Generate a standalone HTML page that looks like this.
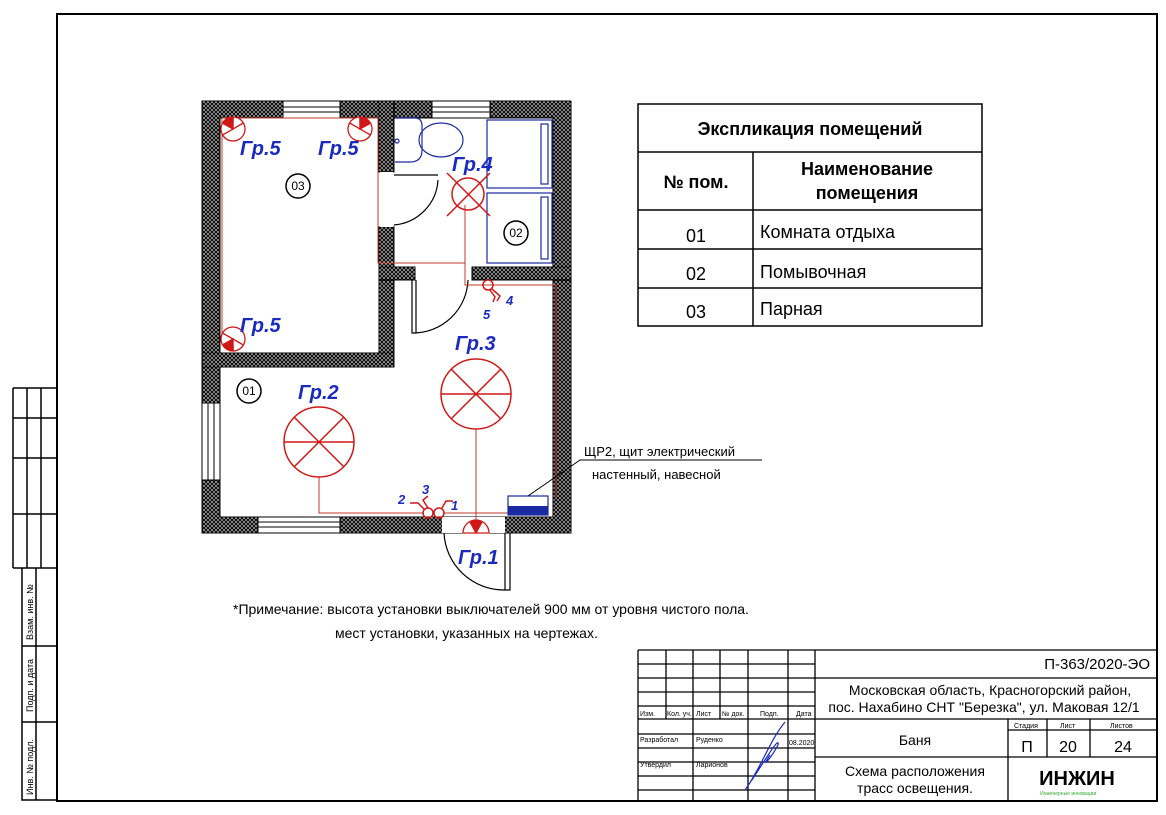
<!DOCTYPE html>
<html><head><meta charset="utf-8"><style>
body{margin:0;background:#fff}
svg{display:block;font-family:"Liberation Sans",sans-serif}
</style></head><body>
<svg width="1166" height="815" viewBox="0 0 1166 815" xmlns="http://www.w3.org/2000/svg">
<defs>
<pattern id="h" width="4" height="4" patternUnits="userSpaceOnUse">
<rect width="4" height="4" fill="#fff"/>
<path d="M0 0L4 4M4 0L0 4" stroke="#111" stroke-width="1.5"/>
</pattern>
</defs>
<rect width="1166" height="815" fill="#fff"/>
<path d="M57 14H1157V801H57Z" fill="none" stroke="#000" stroke-width="2"/>
<g stroke="#000" stroke-width="1.5" fill="none">
<path d="M13 388H57M13 418H57M13 458H57M13 514H57M13 568H57M13 388V568M27 388V568M41 388V568"/>
<path d="M22 568V800H57M22 646H57M22 722H57M36 568V800"/>
</g>
<g font-size="9" fill="#000">
<text transform="translate(33,640) rotate(-90)">Взам. инв. №</text>
<text transform="translate(33,712) rotate(-90)">Подп. и дата</text>
<text transform="translate(33,795) rotate(-90)">Инв. № подл.</text>
</g>
<g fill="url(#h)" stroke="#000" stroke-width="1">
<path fill-rule="evenodd" d="M202 101H571V533H202Z M220 118V517H553V118Z"/>
<rect x="379" y="101" width="15" height="71"/>
<rect x="379" y="227" width="15" height="140"/>
<rect x="202" y="353" width="192" height="14"/>
<rect x="379" y="267" width="36" height="13"/>
<rect x="472" y="267" width="99" height="13"/>
</g>
<g fill="#fff" stroke="#000" stroke-width="1">
<rect x="283" y="101" width="57" height="17"/><path d="M283 107H340M283 112H340"/>
<rect x="432" y="101" width="58" height="17"/><path d="M432 107H490M432 112H490"/>
<rect x="258" y="517" width="82" height="16"/><path d="M258 522H340M258 527H340"/>
<rect x="202" y="403" width="18" height="77"/><path d="M208 403V480M214 403V480"/>
<rect x="442" y="517" width="63" height="16" stroke="none"/>
<rect x="380" y="172" width="13" height="55" stroke="none"/>
</g>
<g fill="none" stroke="#000" stroke-width="1.2">
<path d="M394 175H438M394 225A48 48 0 0 0 438 180"/>
<path d="M412 280V333H416V280M413 333A55 55 0 0 0 468 280"/>
<path d="M505 533V590H510V533M444 533A60 60 0 0 0 505 590"/>
</g>
<g fill="none" stroke="#1a2aa0" stroke-width="1.2">
<rect x="487" y="120" width="65" height="68"/><rect x="541" y="124" width="7" height="60"/>
<rect x="487" y="193" width="65" height="70"/><rect x="541" y="197" width="7" height="62"/>
<path d="M395 118H415Q422 118 422 126V150Q422 162 410 162H395"/>
<ellipse cx="441" cy="140" rx="22" ry="17"/>
<circle cx="397" cy="141" r="2"/>
</g>
<g fill="none" stroke="#c0392b" stroke-width="1">
<path d="M222 118H378V263H465V285H556V498"/>
<path d="M222 118V340"/>
<path d="M465 205V285"/>
<path d="M319 477V513H424M443 513H508"/>
<path d="M476 429V528"/>
</g>
<g fill="none" stroke="#d01818" stroke-width="1.5">
<circle cx="319" cy="442" r="35"/><path d="M284 442H354M294 417L344 467M344 417L294 467"/>
<circle cx="476" cy="394" r="35"/><path d="M441 394H511M451 369L501 419M501 369L451 419"/>
<circle cx="468" cy="194" r="16"/><path d="M447 173L490 216M490 173L447 216"/>
<circle cx="428" cy="513" r="5"/><circle cx="439" cy="513" r="5"/>
<circle cx="488" cy="285" r="5"/>
<path d="M424 509L418 503H410M442 508L446 501H453M428 508L423 500L428 496M492 289L500 296L497 301M490 290L495 297L493 302"/>
</g>
<!-- wall lamps -->
<g stroke="#d01818" stroke-width="1.3">
<g transform="translate(233,129) rotate(-30)"><path d="M-12 0A12 12 0 0 1 12 0Z" fill="#fff"/><path d="M0 0L-6 -10A12 12 0 0 1 6 -10Z" fill="#d01818"/><path d="M-12 0A12 12 0 0 0 12 0" fill="none"/></g>
<g transform="translate(360,129) rotate(30)"><path d="M-12 0A12 12 0 0 1 12 0Z" fill="#fff"/><path d="M0 0L-6 -10A12 12 0 0 1 6 -10Z" fill="#d01818"/><path d="M-12 0A12 12 0 0 0 12 0" fill="none"/></g>
<g transform="translate(233,339) rotate(-150)"><path d="M-12 0A12 12 0 0 1 12 0Z" fill="#fff"/><path d="M0 0L-6 -10A12 12 0 0 1 6 -10Z" fill="#d01818"/><path d="M-12 0A12 12 0 0 0 12 0" fill="none"/></g>
<g transform="translate(476,533)"><path d="M-13 0A13 13 0 0 1 13 0Z" fill="#fff"/><path d="M0 0L-6 -11A13 13 0 0 1 6 -11Z" fill="#d01818"/></g>
</g>
<rect x="508" y="496" width="40" height="19" fill="#fff" stroke="#1a2aa0" stroke-width="1.2"/>
<rect x="508" y="506" width="40" height="9" fill="#1a2aa0"/>
<path d="M528 496L580 460H762" fill="none" stroke="#000" stroke-width="1"/>
<text x="584" y="456" font-size="13">ЩР2, щит электрический</text>
<text x="592" y="479" font-size="13">настенный, навесной</text>
<g fill="#1a2ac0" font-size="20" font-style="italic" font-weight="bold">
<text x="240" y="155">Гр.5</text><text x="318" y="155">Гр.5</text>
<text x="240" y="332">Гр.5</text><text x="452" y="171">Гр.4</text>
<text x="455" y="350">Гр.3</text><text x="298" y="399">Гр.2</text>
<text x="458" y="564">Гр.1</text>
</g>
<g fill="#1a2ac0" font-size="13" font-style="italic" font-weight="bold">
<text x="398" y="504">2</text><text x="422" y="494">3</text><text x="451" y="510">1</text>
<text x="506" y="305">4</text><text x="483" y="319">5</text>
</g>
<g fill="none" stroke="#000" stroke-width="1.5">
<circle cx="298" cy="186" r="12"/><circle cx="516" cy="233" r="12"/><circle cx="249" cy="391" r="12"/>
</g>
<g font-size="12" text-anchor="middle">
<text x="298" y="190">03</text><text x="516" y="237">02</text><text x="249" y="395">01</text>
</g>
<g fill="none" stroke="#000" stroke-width="1.5">
<rect x="638" y="104" width="344" height="222"/>
<path d="M638 152H982M638 210H982M638 249H982M638 288H982M753 152V326"/>
</g>
<g font-size="18" text-anchor="middle">
<text x="810" y="135" font-weight="bold">Экспликация помещений</text>
<text x="696" y="188" font-weight="bold">№ пом.</text>
<text x="867" y="175" font-weight="bold">Наименование</text>
<text x="867" y="199" font-weight="bold">помещения</text>
<text x="696" y="242">01</text><text x="696" y="280">02</text><text x="696" y="318">03</text>
</g>
<g font-size="18"><text x="760" y="238">Комната отдыха</text><text x="760" y="278">Помывочная</text><text x="760" y="315">Парная</text></g>
<text x="233" y="614" font-size="14">*Примечание: высота установки выключателей 900 мм от уровня чистого пола.</text>
<text x="335" y="638" font-size="14">мест установки, указанных на чертежах.</text>
<g fill="none" stroke="#000" stroke-width="1.3">
<path d="M638 650H1157M638 650V801"/>
<path d="M666 650V719M693 650V801M720 650V719M748 650V801M788 650V801M815 650V801"/>
<path d="M638 664H815M638 678H1157M638 692H815M638 706H815M638 719H1157M638 734H815M638 748H815M638 762H815M638 776H815M638 790H815"/>
<path d="M815 757H1157M1008 719V801M1047 719V757M1090 719V757M1008 730H1157"/>
</g>
<g font-size="7">
<text x="640" y="716">Изм.</text><text x="667" y="716">Кол. уч.</text><text x="696" y="716">Лист</text><text x="722" y="716">№ док.</text><text x="760" y="716">Подп.</text><text x="796" y="716">Дата</text>
<text x="640" y="742">Разработал</text><text x="696" y="742">Руденко</text><text x="789" y="745">08.2020</text>
<text x="640" y="767">Утвердил</text><text x="696" y="767">Ларионов</text>
<text x="1014" y="728">Стадия</text><text x="1060" y="728">Лист</text><text x="1110" y="728">Листов</text>
</g>
<path d="M745 790C760 770 770 740 785 722M752 780C765 760 780 735 778 745C770 760 760 770 770 755" fill="none" stroke="#1a2ac0" stroke-width="1.2"/>
<g font-size="14" text-anchor="middle">
<text x="1150" y="669" text-anchor="end" font-size="15">П-363/2020-ЭО</text>
<text x="990" y="695">Московская область, Красногорский район,</text>
<text x="984" y="712">пос. Нахабино СНТ "Березка", ул. Маковая 12/1</text>
<text x="915" y="745">Баня</text>
<text x="915" y="776">Схема расположения</text>
<text x="915" y="793">трасс освещения.</text>
<text x="1027" y="752" font-size="16">П</text><text x="1068" y="752" font-size="16">20</text><text x="1123" y="752" font-size="16">24</text>
<text x="1077" y="785" font-size="20" font-weight="bold">ИНЖИН</text>
</g>
<text x="1040" y="795" font-size="5" fill="#3a3">Инженерные инновации</text>
</svg>
</body></html>
